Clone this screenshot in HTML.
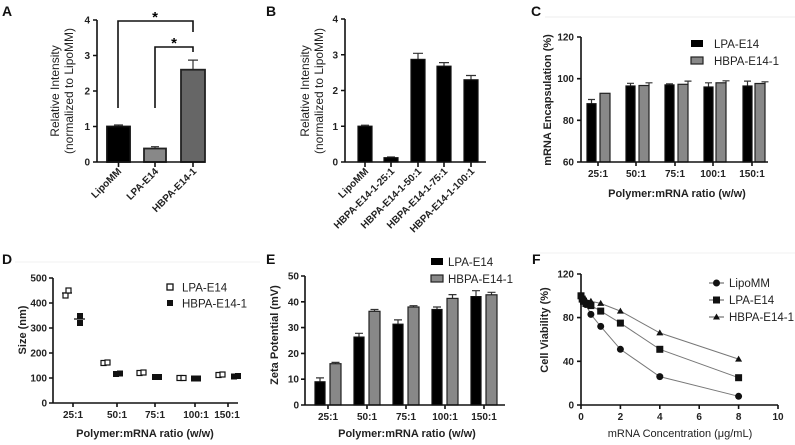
<!DOCTYPE html>
<html><head><meta charset="utf-8"><style>
html,body{margin:0;padding:0;background:#fff;}
svg{display:block;font-family:"Liberation Sans",Arial,sans-serif;}
.t{font-size:10px;font-weight:bold;fill:#222;}
.at{font-size:11px;font-weight:bold;fill:#222;}
.lg{font-size:11.5px;fill:#222;}
.pl{font-size:14px;font-weight:bold;fill:#111;}
.ax{stroke:#111;stroke-width:1.6;fill:none;}
.eb{stroke:#333;stroke-width:1.2;fill:none;}
</style></head><body>
<svg width="795" height="445" viewBox="0 0 795 445" xmlns="http://www.w3.org/2000/svg">
<text class="pl" x="2" y="16">A</text>
<text class="pl" x="266" y="16">B</text>
<text class="pl" x="531" y="16">C</text>
<text class="pl" x="2" y="264">D</text>
<text class="pl" x="266" y="264">E</text>
<text class="pl" x="532" y="264">F</text>

<!-- ===== A ===== -->
<g>
<path class="eb" d="M118.5 125v1.5M114 125h9M155 146.7v1.8M151 146.7h8M193 60.1v9.6M188 60.1h10"/>
<rect x="107" y="126.5" width="23" height="35.5" fill="#000" stroke="#111" stroke-width="1.8"/>
<rect x="144" y="148.5" width="22" height="13.5" fill="#888" stroke="#222" stroke-width="1.8"/>
<rect x="181" y="69.7" width="24" height="92.3" fill="#666" stroke="#222" stroke-width="1.8"/>
<path class="ax" d="M97 20V162H205M93 20h4M93 55.5h4M93 91h4M93 126.5h4M93 162h4M118.5 162v5M155 162v5M193 162v5"/>
<g class="t" text-anchor="end"><text x="90" y="165.5">0</text><text x="90" y="130">1</text><text x="90" y="94.5">2</text><text x="90" y="59">3</text><text x="90" y="23.5">4</text></g>
<path d="M118 108V21H193V32M155 108V47H193V52" stroke="#111" stroke-width="1.6" fill="none"/>
<text x="155" y="22" text-anchor="middle" style="font-size:15px;font-weight:bold">*</text>
<text x="174" y="48" text-anchor="middle" style="font-size:15px;font-weight:bold">*</text>
<g style="font-size:12px;fill:#222" text-anchor="middle"><text transform="translate(59,91) rotate(-90)">Relative Intensity</text><text transform="translate(73,91) rotate(-90)">(normalized to LipoMM)</text></g>
<g class="t" text-anchor="end"><text transform="translate(122,172) rotate(-45)">LipoMM</text><text transform="translate(159,172) rotate(-45)">LPA-E14</text><text transform="translate(197,172) rotate(-45)">HBPA-E14-1</text></g>
</g>

<!-- ===== B ===== -->
<g>
<path class="eb" d="M365 125.2v1M361 125.2h8M391 157v1M387 157h8M418 53.3v6M413 53.3h10M444 62.6v3.6M439 62.6h10M471 75.5v4.3M466 75.5h10"/>
<g fill="#000" stroke="#111" stroke-width="1.2">
<rect x="358" y="126.2" width="14" height="35.8"/><rect x="384" y="157.7" width="14" height="4.3"/><rect x="411" y="59.4" width="14" height="102.6"/><rect x="437" y="66.2" width="14" height="95.8"/><rect x="464" y="79.8" width="14" height="82.2"/></g>
<path class="ax" d="M345 19V162H486M341 19h4M341 54.75h4M341 90.5h4M341 126.25h4M341 162h4M365 162v5M391 162v5M418 162v5M444 162v5M471 162v5"/>
<g class="t" text-anchor="end"><text x="338" y="165.5">0</text><text x="338" y="129.75">1</text><text x="338" y="94">2</text><text x="338" y="58.25">3</text><text x="338" y="22.5">4</text></g>
<g style="font-size:12px;fill:#222" text-anchor="middle"><text transform="translate(309,91) rotate(-90)">Relative Intensity</text><text transform="translate(323,91) rotate(-90)">(normalized to LipoMM)</text></g>
<g class="t" text-anchor="end"><text transform="translate(369,172) rotate(-45)">LipoMM</text><text transform="translate(395,172) rotate(-45)">HBPA-E14-1-25:1</text><text transform="translate(422,172) rotate(-45)">HBPA-E14-1-50:1</text><text transform="translate(448,172) rotate(-45)">HBPA-E14-1-75:1</text><text transform="translate(475,172) rotate(-45)">HBPA-E14-1-100:1</text></g>
</g>

<!-- ===== C ===== -->
<g>
<line x1="545" y1="17" x2="795" y2="17" stroke="#eee" stroke-width="1"/>
<path class="eb" d="M591.5 99.5v4.2M588 99.5h7M630.5 83.3v2.7M627 83.3h7M669.5 83.8v1.1M666 83.8h7M708.5 82.8v4.2M705 82.8h7M747.5 81.1v4.9M744 81.1h7M649 82.8v2.7M645.5 82.8h7M688 81.1v3.2M684.5 81.1h7M726 80.8v2M722.5 80.8h7M765 81.8v1.7M761.5 81.8h7"/>
<g fill="#000" stroke="#111" stroke-width="1.2">
<rect x="587" y="103.7" width="9" height="58.3"/><rect x="626" y="86" width="9" height="76"/><rect x="665" y="84.9" width="9" height="77.1"/><rect x="704" y="87" width="9" height="75"/><rect x="743" y="86" width="9" height="76"/></g>
<g fill="#888" stroke="#222" stroke-width="1.2">
<rect x="600" y="93.3" width="10" height="68.7"/><rect x="639" y="85.5" width="10" height="76.5"/><rect x="678" y="84.3" width="10" height="77.7"/><rect x="716" y="82.8" width="10" height="79.2"/><rect x="755" y="83.5" width="10" height="78.5"/></g>
<path class="ax" d="M581 37V162H768M577 37h4M577 78.7h4M577 120.3h4M577 162h4M598 162v4M636 162v4M675 162v4M713 162v4M752 162v4"/>
<g class="t" text-anchor="end"><text x="574" y="165.5">60</text><text x="574" y="123.8">80</text><text x="574" y="82.2">100</text><text x="574" y="40.5">120</text></g>
<g class="t" text-anchor="middle"><text x="598" y="177">25:1</text><text x="636" y="177">50:1</text><text x="675" y="177">75:1</text><text x="713" y="177">100:1</text><text x="752" y="177">150:1</text></g>
<text class="at" x="677" y="197" text-anchor="middle">Polymer:mRNA ratio (w/w)</text>
<text class="at" transform="translate(551,100) rotate(-90)" text-anchor="middle">mRNA Encapsulation (%)</text>
<rect x="691" y="40" width="12" height="7" fill="#000"/>
<rect x="691" y="57" width="12" height="7" fill="#888" stroke="#222" stroke-width="1.2"/>
<text class="lg" x="714" y="48">LPA-E14</text><text class="lg" x="714" y="65">HBPA-E14-1</text>
</g>

<!-- ===== D ===== -->
<g>
<line x1="15" y1="262" x2="260" y2="262" stroke="#f0f0f0"/>
<path class="ax" d="M53 278V403H238M49 278h4M49 303h4M49 328h4M49 353h4M49 378h4M49 403h4M73 403v4M117 403v4M155 403v4M195 403v4M228 403v4"/>
<g class="t" text-anchor="end"><text x="47" y="406.5">0</text><text x="47" y="381.5">100</text><text x="47" y="356.5">200</text><text x="47" y="331.5">300</text><text x="47" y="306.5">400</text><text x="47" y="281.5">500</text></g>
<g class="t" text-anchor="middle"><text x="73" y="418">25:1</text><text x="117" y="418">50:1</text><text x="155" y="418">75:1</text><text x="196" y="418">100:1</text><text x="227" y="418">150:1</text></g>
<text class="at" x="145" y="437" text-anchor="middle">Polymer:mRNA ratio (w/w)</text>
<text class="at" transform="translate(26,330) rotate(-90)" text-anchor="middle">Size (nm)</text>
<path d="M62 293h10M74 319h11" stroke="#111" stroke-width="1.2"/>
<g fill="#fff" stroke="#111" stroke-width="1.2">
<rect x="63" y="293" width="5" height="5"/><rect x="66" y="288" width="5" height="5"/>
<rect x="101" y="360.5" width="5" height="5"/><rect x="105" y="360" width="5" height="5"/>
<rect x="137" y="370.5" width="5" height="5"/><rect x="141" y="370" width="5" height="5"/>
<rect x="177" y="375.5" width="5" height="5"/><rect x="181" y="375.5" width="5" height="5"/>
<rect x="216" y="372.5" width="5" height="5"/><rect x="220" y="372" width="5" height="5"/></g>
<g fill="#111">
<rect x="77" y="313" width="6" height="6"/><rect x="77" y="320" width="6" height="6"/>
<rect x="113" y="371" width="6" height="6"/><rect x="117" y="370.5" width="6" height="6"/>
<rect x="152" y="374" width="6" height="6"/><rect x="156" y="374" width="6" height="6"/>
<rect x="191" y="375.5" width="6" height="6"/><rect x="195" y="375.5" width="6" height="6"/>
<rect x="231" y="373.5" width="6" height="6"/><rect x="235" y="373" width="6" height="6"/></g>
<rect x="167" y="284" width="6" height="6" fill="#fff" stroke="#111" stroke-width="1.3"/>
<rect x="167" y="300" width="6" height="6" fill="#111"/>
<text class="lg" x="182" y="291.5">LPA-E14</text><text class="lg" x="182" y="307.5">HBPA-E14-1</text>
</g>

<!-- ===== E ===== -->
<g>
<path class="eb" d="M320 377.9v4M316 377.9h8M359 333.3v4M355 333.3h8M398 319.9v4M394 319.9h8M437 307v3M433 307h8M476 290.7v6M472 290.7h8M335.5 362.4v1.5M331.5 362.4h8M374.5 309.5v2M370.5 309.5h8M413.5 305.7v1.5M409.5 305.7h8M452.5 294.6v4M448.5 294.6h8M491.5 292.3v2.5M487.5 292.3h8"/>
<g fill="#000" stroke="#111" stroke-width="1.2">
<rect x="315" y="381.8" width="10" height="23.2"/><rect x="354" y="337.1" width="10" height="67.9"/><rect x="393" y="324.2" width="10" height="80.8"/><rect x="432" y="309.5" width="10" height="95.5"/><rect x="471" y="296.6" width="10" height="108.4"/></g>
<g fill="#888" stroke="#222" stroke-width="1.2">
<rect x="330" y="363.7" width="11" height="41.3"/><rect x="369" y="311.3" width="11" height="93.7"/><rect x="408" y="307" width="11" height="98"/><rect x="447" y="298.4" width="11" height="106.6"/><rect x="486" y="294.8" width="11" height="110.2"/></g>
<path class="ax" d="M305 276V405H505M301 276h4M301 301.8h4M301 327.6h4M301 353.4h4M301 379.2h4M301 405h4M328 405v4M367 405v4M406 405v4M445 405v4M484 405v4"/>
<g class="t" text-anchor="end"><text x="299" y="408.5">0</text><text x="299" y="382.7">10</text><text x="299" y="356.9">20</text><text x="299" y="331.1">30</text><text x="299" y="305.3">40</text><text x="299" y="279.5">50</text></g>
<g class="t" text-anchor="middle"><text x="328" y="420">25:1</text><text x="367" y="420">50:1</text><text x="406" y="420">75:1</text><text x="445" y="420">100:1</text><text x="484" y="420">150:1</text></g>
<text class="at" x="407" y="437" text-anchor="middle">Polymer:mRNA ratio (w/w)</text>
<text class="at" transform="translate(278,335) rotate(-90)" text-anchor="middle">Zeta Potential (mV)</text>
<rect x="431" y="258" width="12" height="7" fill="#000"/>
<rect x="431" y="275" width="12" height="7" fill="#888" stroke="#222" stroke-width="1.2"/>
<text class="lg" x="448" y="266">LPA-E14</text><text class="lg" x="448" y="283">HBPA-E14-1</text>
</g>

<!-- ===== F ===== -->
<g>
<line x1="540" y1="253" x2="795" y2="253" stroke="#f0f0f0"/>
<path class="ax" d="M581 274V405H778M577 274h4M577 317.6h4M577 361.3h4M577 405h4M581 405v4M620.4 405v4M659.8 405v4M699.2 405v4M738.6 405v4M778 405v4"/>
<g class="t" text-anchor="end"><text x="574" y="408.5">0</text><text x="574" y="364.8">40</text><text x="574" y="321.1">80</text><text x="574" y="277.5">120</text></g>
<g class="t" text-anchor="middle"><text x="581" y="420">0</text><text x="620.4" y="420">2</text><text x="659.8" y="420">4</text><text x="699.2" y="420">6</text><text x="738.6" y="420">8</text><text x="778" y="420">10</text></g>
<text x="680" y="437" text-anchor="middle" style="font-size:11px;fill:#222">mRNA Concentration (μg/mL)</text>
<text class="at" transform="translate(548,330) rotate(-90)" text-anchor="middle">Cell Viability (%)</text>
<g fill="none" stroke="#777" stroke-width="1">
<polyline points="581,295.8 582.2,298 583.5,301.3 585.9,304.5 590.9,314.4 600.7,326.4 620.4,349.3 659.8,376.6 738.6,396.3"/>
<polyline points="581,295.8 582.2,299.1 583.5,301.3 585.9,303.4 590.9,305.6 600.7,311.1 620.4,323.1 659.8,349.3 738.6,377.7"/>
<polyline points="581,295.8 582.2,296.9 583.5,299.1 585.9,300.2 590.9,301.3 600.7,303.4 620.4,311.1 659.8,332.9 738.6,359.1"/>
</g>
<g fill="#111">
<circle cx="581" cy="295.8" r="3.5"/><circle cx="582.2" cy="298" r="3.5"/><circle cx="583.5" cy="301.3" r="3.5"/><circle cx="585.9" cy="304.5" r="3.5"/><circle cx="590.9" cy="314.4" r="3.5"/><circle cx="600.7" cy="326.4" r="3.5"/><circle cx="620.4" cy="349.3" r="3.5"/><circle cx="659.8" cy="376.6" r="3.5"/><circle cx="738.6" cy="396.3" r="3.5"/>
<rect x="577.5" y="292.3" width="7" height="7"/><rect x="578.7" y="295.6" width="7" height="7"/><rect x="580" y="297.8" width="7" height="7"/><rect x="582.4" y="299.9" width="7" height="7"/><rect x="587.4" y="302.1" width="7" height="7"/><rect x="597.2" y="307.6" width="7" height="7"/><rect x="616.9" y="319.6" width="7" height="7"/><rect x="656.3" y="345.8" width="7" height="7"/><rect x="735.1" y="374.2" width="7" height="7"/>
<path d="M581 292.3l3.5 6h-7zM582.2 293.4l3.5 6h-7zM583.5 295.6l3.5 6h-7zM585.9 296.7l3.5 6h-7zM590.9 297.8l3.5 6h-7zM600.7 299.9l3.5 6h-7zM620.4 307.6l3.5 6h-7zM659.8 329.4l3.5 6h-7zM738.6 355.6l3.5 6h-7z"/>
</g>
<g stroke="#555" stroke-width="1"><line x1="709" y1="283" x2="724" y2="283"/><line x1="709" y1="300" x2="724" y2="300"/><line x1="709" y1="317" x2="724" y2="317"/></g>
<g fill="#111"><circle cx="716.5" cy="283" r="3.5"/><rect x="713" y="296.5" width="7" height="7"/><path d="M716.5 313.5l3.5 6h-7z"/></g>
<text class="lg" x="729" y="287">LipoMM</text><text class="lg" x="729" y="304">LPA-E14</text><text class="lg" x="729" y="321">HBPA-E14-1</text>
</g>
</svg>
</body></html>
